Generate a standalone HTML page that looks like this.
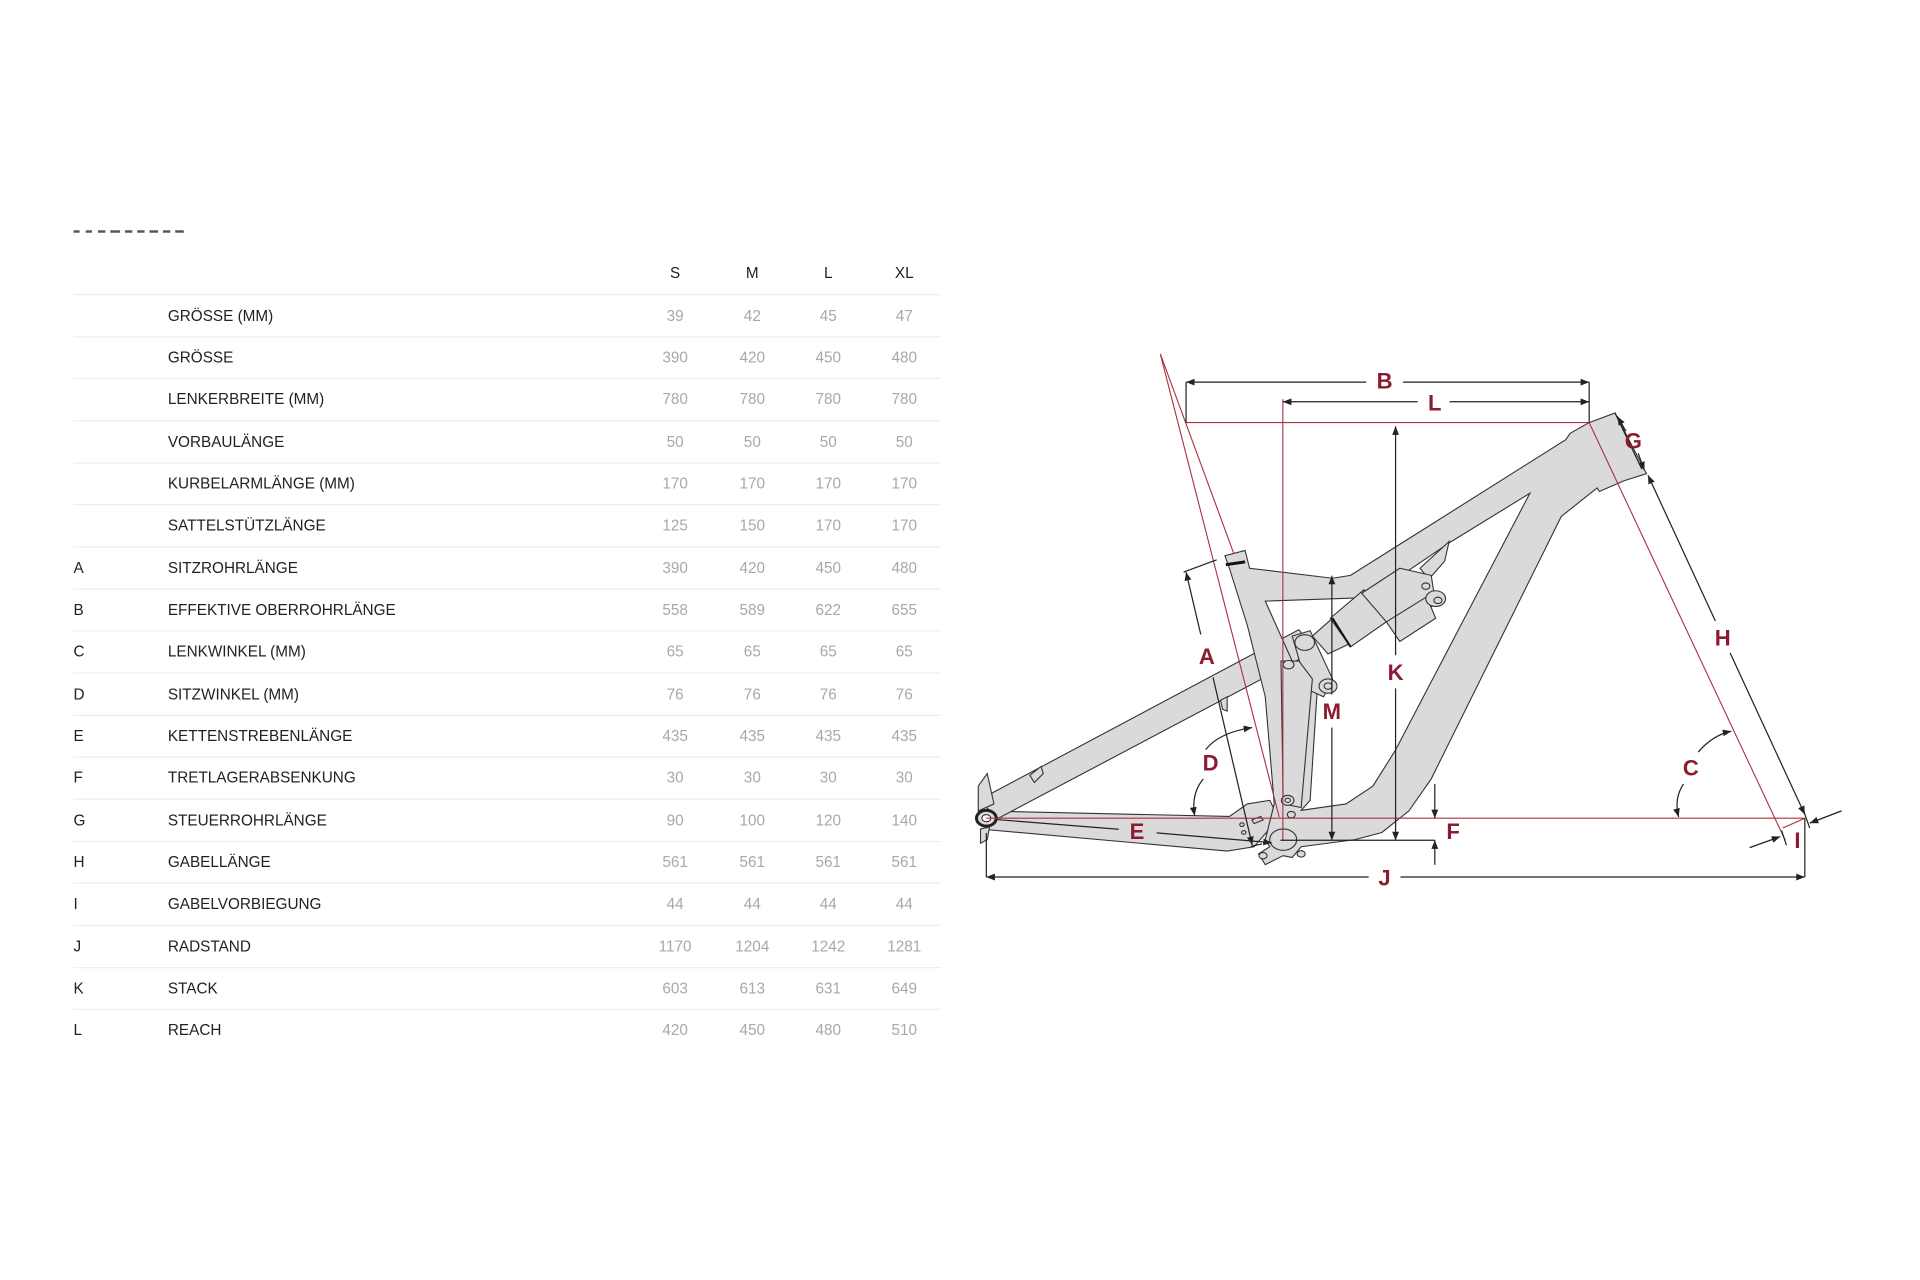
<!DOCTYPE html>
<html><head><meta charset="utf-8"><style>
html,body{margin:0;padding:0;background:#fff;}
svg{display:block}
.t{font-family:"Liberation Sans",sans-serif;font-size:12.5px;fill:#222}
.v{font-family:"Liberation Sans",sans-serif;font-size:12.5px;fill:#a8a8a8;text-anchor:middle}
.lb{font-family:"Liberation Sans",sans-serif;font-size:18px;font-weight:bold;fill:#8a1c30;text-anchor:middle;dominant-baseline:central}
.fr{fill:#dadada;stroke:#333;stroke-width:1.1;vector-effect:non-scaling-stroke}
.dl{stroke:#222;stroke-width:1;fill:none}
.rl{stroke:#a8323e;stroke-width:0.9;fill:none}
</style></head><body>
<svg width="1920" height="1280" viewBox="0 0 1567 1045" preserveAspectRatio="none" xmlns="http://www.w3.org/2000/svg">
<defs>
<marker id="a" viewBox="0 0 10 10" refX="10" refY="5" markerWidth="7" markerHeight="7" orient="auto-start-reverse" markerUnits="userSpaceOnUse"><path d="M0,1 L10,5 L0,9 z" fill="#222"/></marker>
</defs>
<g fill="#555"><rect x="60" y="188" width="5" height="2"/><rect x="70" y="188" width="5" height="2"/><rect x="80" y="188" width="6" height="2"/><rect x="90" y="188" width="8" height="2"/><rect x="102" y="188" width="6" height="2"/><rect x="112" y="188" width="6" height="2"/><rect x="122" y="188" width="7" height="2"/><rect x="133" y="188" width="6" height="2"/><rect x="143" y="188" width="7" height="2"/></g>
<g class="t" text-anchor="middle"><text x="551" y="227">S</text><text x="614" y="227">M</text><text x="676" y="227">L</text><text x="738" y="227">XL</text></g>
<g stroke="#eeeeee" stroke-width="1">
<line x1="60" y1="240.5" x2="768" y2="240.5"/><line x1="60" y1="275" x2="768" y2="275"/><line x1="60" y1="309" x2="768" y2="309"/><line x1="60" y1="343.5" x2="768" y2="343.5"/><line x1="60" y1="378" x2="768" y2="378"/><line x1="60" y1="412" x2="768" y2="412"/><line x1="60" y1="446.5" x2="768" y2="446.5"/><line x1="60" y1="481" x2="768" y2="481"/><line x1="60" y1="515" x2="768" y2="515"/><line x1="60" y1="549.5" x2="768" y2="549.5"/><line x1="60" y1="584" x2="768" y2="584"/><line x1="60" y1="618" x2="768" y2="618"/><line x1="60" y1="652.5" x2="768" y2="652.5"/><line x1="60" y1="687" x2="768" y2="687"/><line x1="60" y1="721" x2="768" y2="721"/><line x1="60" y1="755.5" x2="768" y2="755.5"/><line x1="60" y1="790" x2="768" y2="790"/><line x1="60" y1="824" x2="768" y2="824"/>
</g>
<g class="t">
<text x="137" y="262">GRÖSSE (MM)</text>
<text x="137" y="296">GRÖSSE</text>
<text x="137" y="330">LENKERBREITE (MM)</text>
<text x="137" y="365">VORBAULÄNGE</text>
<text x="137" y="399">KURBELARMLÄNGE (MM)</text>
<text x="137" y="433">SATTELSTÜTZLÄNGE</text>
<text x="60" y="468">A</text><text x="137" y="468">SITZROHRLÄNGE</text>
<text x="60" y="502">B</text><text x="137" y="502">EFFEKTIVE OBERROHRLÄNGE</text>
<text x="60" y="536">C</text><text x="137" y="536">LENKWINKEL (MM)</text>
<text x="60" y="571">D</text><text x="137" y="571">SITZWINKEL (MM)</text>
<text x="60" y="605">E</text><text x="137" y="605">KETTENSTREBENLÄNGE</text>
<text x="60" y="639">F</text><text x="137" y="639">TRETLAGERABSENKUNG</text>
<text x="60" y="674">G</text><text x="137" y="674">STEUERROHRLÄNGE</text>
<text x="60" y="708">H</text><text x="137" y="708">GABELLÄNGE</text>
<text x="60" y="742">I</text><text x="137" y="742">GABELVORBIEGUNG</text>
<text x="60" y="777">J</text><text x="137" y="777">RADSTAND</text>
<text x="60" y="811">K</text><text x="137" y="811">STACK</text>
<text x="60" y="845">L</text><text x="137" y="845">REACH</text>
</g>
<g class="v">
<text x="551" y="262">39</text><text x="614" y="262">42</text><text x="676" y="262">45</text><text x="738" y="262">47</text>
<text x="551" y="296">390</text><text x="614" y="296">420</text><text x="676" y="296">450</text><text x="738" y="296">480</text>
<text x="551" y="330">780</text><text x="614" y="330">780</text><text x="676" y="330">780</text><text x="738" y="330">780</text>
<text x="551" y="365">50</text><text x="614" y="365">50</text><text x="676" y="365">50</text><text x="738" y="365">50</text>
<text x="551" y="399">170</text><text x="614" y="399">170</text><text x="676" y="399">170</text><text x="738" y="399">170</text>
<text x="551" y="433">125</text><text x="614" y="433">150</text><text x="676" y="433">170</text><text x="738" y="433">170</text>
<text x="551" y="468">390</text><text x="614" y="468">420</text><text x="676" y="468">450</text><text x="738" y="468">480</text>
<text x="551" y="502">558</text><text x="614" y="502">589</text><text x="676" y="502">622</text><text x="738" y="502">655</text>
<text x="551" y="536">65</text><text x="614" y="536">65</text><text x="676" y="536">65</text><text x="738" y="536">65</text>
<text x="551" y="571">76</text><text x="614" y="571">76</text><text x="676" y="571">76</text><text x="738" y="571">76</text>
<text x="551" y="605">435</text><text x="614" y="605">435</text><text x="676" y="605">435</text><text x="738" y="605">435</text>
<text x="551" y="639">30</text><text x="614" y="639">30</text><text x="676" y="639">30</text><text x="738" y="639">30</text>
<text x="551" y="674">90</text><text x="614" y="674">100</text><text x="676" y="674">120</text><text x="738" y="674">140</text>
<text x="551" y="708">561</text><text x="614" y="708">561</text><text x="676" y="708">561</text><text x="738" y="708">561</text>
<text x="551" y="742">44</text><text x="614" y="742">44</text><text x="676" y="742">44</text><text x="738" y="742">44</text>
<text x="551" y="777">1170</text><text x="614" y="777">1204</text><text x="676" y="777">1242</text><text x="738" y="777">1281</text>
<text x="551" y="811">603</text><text x="614" y="811">613</text><text x="676" y="811">631</text><text x="738" y="811">649</text>
<text x="551" y="845">420</text><text x="614" y="845">450</text><text x="676" y="845">480</text><text x="738" y="845">510</text>
</g>

<g transform="translate(798.41 277.37) scale(0.366 0.2915)">
<path class="fr" d="M20,1320 L560,1335 L600,1300 L650,1290 L670,1340 L615,1420 L555,1432 L20,1372 Z"/>
<path class="fr" d="M0,1290 L715,812 L750,872 L45,1340 Z"/>
<path class="fr" d="M0,1250 L20,1215 L35,1300 L0,1320 Z"/>
<path class="fr" d="M115,1220 L140,1195 L145,1215 L125,1240 Z"/>
<path class="fr" d="M540,1010 L555,1000 L555,1040 L545,1035 Z"/>
<path class="fr" fill-rule="evenodd" d="M1362,232 L1420,205 L1490,375 L1440,395 L1385,425 L1380,415 L1320,475 L1300,495 L1010,1230 L960,1320 L900,1380 L840,1400 L720,1420 L700,1450 L680,1445 L640,1470 L625,1440 L650,1420 L640,1400 L660,1300 L640,1000 L600,800 L560,640 L550,605 L595,590 L605,640 L790,668 L830,660 L1310,280 L1320,262 Z
M1230,430 L1055,565 L870,722 L640,732 L700,900 L760,900 L740,1290 L720,1318 L820,1300 L880,1250 L930,1150 Z"/>
<line x1="552" y1="630" x2="595" y2="622" stroke="#111" stroke-width="3" vector-effect="non-scaling-stroke"/>
<path class="fr" d="M985,640 L1050,565 L1040,620 L1005,670 Z"/>
<path class="fr" d="M745,830 L790,780 L830,850 L780,880 Z"/>
<path class="fr" d="M785,780 L860,700 L910,790 L830,860 Z"/>
<path class="fr" d="M855,710 L940,640 L1010,660 L1020,740 L960,790 L910,790 Z"/>
<path class="fr" d="M910,790 L1000,720 L1020,780 L940,845 Z"/>
<circle class="fr" cx="1020" cy="725" r="22"/><circle class="fr" cx="1025" cy="730" r="9"/>
<circle class="fr" cx="998" cy="690" r="9"/>
<line x1="790" y1="780" x2="830" y2="860" stroke="#111" stroke-width="2" vector-effect="non-scaling-stroke"/>
<path class="fr" d="M700,830 L740,815 L790,950 L770,1000 L735,980 Z"/>
<circle class="fr" cx="728" cy="848" r="22"/>
<circle class="fr" cx="780" cy="970" r="20"/><circle class="fr" cx="780" cy="970" r="9"/>
<path class="fr" d="M675,900 L715,900 L745,950 L720,1310 L680,1300 Z"/>
<circle class="fr" cx="692" cy="910" r="12"/>
<circle class="fr" cx="690" cy="1290" r="14"/><circle class="fr" cx="690" cy="1290" r="6"/>
<circle class="fr" cx="698" cy="1330" r="9"/>
<circle class="fr" cx="680" cy="1400" r="30"/>
<circle class="fr" cx="635" cy="1445" r="9"/><circle class="fr" cx="720" cy="1440" r="9"/>
<path class="fr" d="M610,1345 L630,1335 L635,1345 L615,1355 Z"/>
<circle class="fr" cx="588" cy="1358" r="5"/><circle class="fr" cx="592" cy="1380" r="5"/>
<circle cx="18" cy="1340" r="22" fill="#ddd" stroke="#222" stroke-width="3" vector-effect="non-scaling-stroke"/>
<circle cx="18" cy="1340" r="10" fill="#fff" stroke="#222" stroke-width="1" vector-effect="non-scaling-stroke"/>
<path class="fr" d="M5,1370 L25,1365 L20,1400 L5,1410 Z"/>
</g>

<line class="rl" x1="947" y1="289" x2="1044" y2="667"/>
<line class="rl" x1="947" y1="289" x2="1007" y2="452"/>
<line class="rl" x1="968" y1="345" x2="1297" y2="345"/>
<line class="rl" x1="1047" y1="326" x2="1047" y2="686"/>
<line class="rl" x1="805" y1="668" x2="1473" y2="668"/>
<line class="rl" x1="1297" y1="345" x2="1457" y2="686"/>
<line class="rl" x1="1455" y1="676" x2="1473" y2="668"/>

<g class="dl">
<line x1="968" y1="312" x2="968" y2="345"/><line x1="1297" y1="312" x2="1297" y2="345"/>
<line x1="968" y1="312" x2="1115" y2="312" marker-start="url(#a)"/><line x1="1145" y1="312" x2="1297" y2="312" marker-end="url(#a)"/>
<line x1="1047" y1="328" x2="1157" y2="328" marker-start="url(#a)"/><line x1="1183" y1="328" x2="1297" y2="328" marker-end="url(#a)"/>
<line x1="1139" y1="348" x2="1139" y2="535" marker-start="url(#a)"/><line x1="1139" y1="562" x2="1139" y2="686" marker-end="url(#a)"/>
<line x1="1087" y1="470" x2="1087" y2="567" marker-start="url(#a)"/><line x1="1087" y1="594" x2="1087" y2="686" marker-end="url(#a)"/>
<line x1="966" y1="467" x2="993" y2="457"/>
<line x1="968" y1="467" x2="980" y2="518" marker-start="url(#a)"/><line x1="990" y1="553" x2="1022" y2="690" marker-end="url(#a)"/>
<line x1="1021" y1="691" x2="1030" y2="689"/>
<path d="M984,612 Q995,598 1022,594" marker-end="url(#a)"/>
<path d="M982,636 Q972,648 975,666" marker-end="url(#a)"/>
<line x1="812" y1="669" x2="913" y2="677"/><line x1="944" y1="680" x2="1038" y2="688" marker-end="url(#a)"/>
<line x1="1045" y1="686" x2="1171" y2="686"/>
<line x1="1171" y1="640" x2="1171" y2="668" marker-end="url(#a)"/>
<line x1="1171" y1="706" x2="1171" y2="686" marker-end="url(#a)"/>
<line x1="805" y1="680" x2="805" y2="716"/><line x1="1473" y1="668" x2="1473" y2="716"/>
<line x1="805" y1="716" x2="1117" y2="716" marker-start="url(#a)"/><line x1="1143" y1="716" x2="1473" y2="716" marker-end="url(#a)"/>
<line x1="1345" y1="388" x2="1400" y2="507" marker-start="url(#a)"/><line x1="1412" y1="533" x2="1473" y2="665" marker-end="url(#a)"/>
<line x1="1318" y1="337" x2="1340" y2="383"/>
<line x1="1320" y1="340" x2="1327" y2="352" marker-start="url(#a)"/><line x1="1337" y1="370" x2="1342" y2="384" marker-end="url(#a)"/>
<path d="M1386,614 Q1398,600 1413,597" marker-end="url(#a)"/>
<path d="M1374,640 Q1366,652 1370,667" marker-end="url(#a)"/>
<line x1="1428" y1="692" x2="1453" y2="683" marker-end="url(#a)"/>
<line x1="1503" y1="662" x2="1477" y2="672" marker-end="url(#a)"/>
<line x1="1454" y1="678" x2="1458" y2="690"/><line x1="1472" y1="662" x2="1477" y2="676"/>
</g>

<g class="lb">
<text x="1130" y="311">B</text><text x="1171" y="329">L</text>
<text x="1333" y="360">G</text><text x="1406" y="521">H</text>
<text x="985" y="536">A</text><text x="1139" y="549">K</text>
<text x="1087" y="581">M</text><text x="988" y="623">D</text>
<text x="1380" y="627">C</text><text x="928" y="679">E</text>
<text x="1186" y="679">F</text><text x="1467" y="686">I</text>
<text x="1130" y="717">J</text>
</g>
</svg>
</body></html>
